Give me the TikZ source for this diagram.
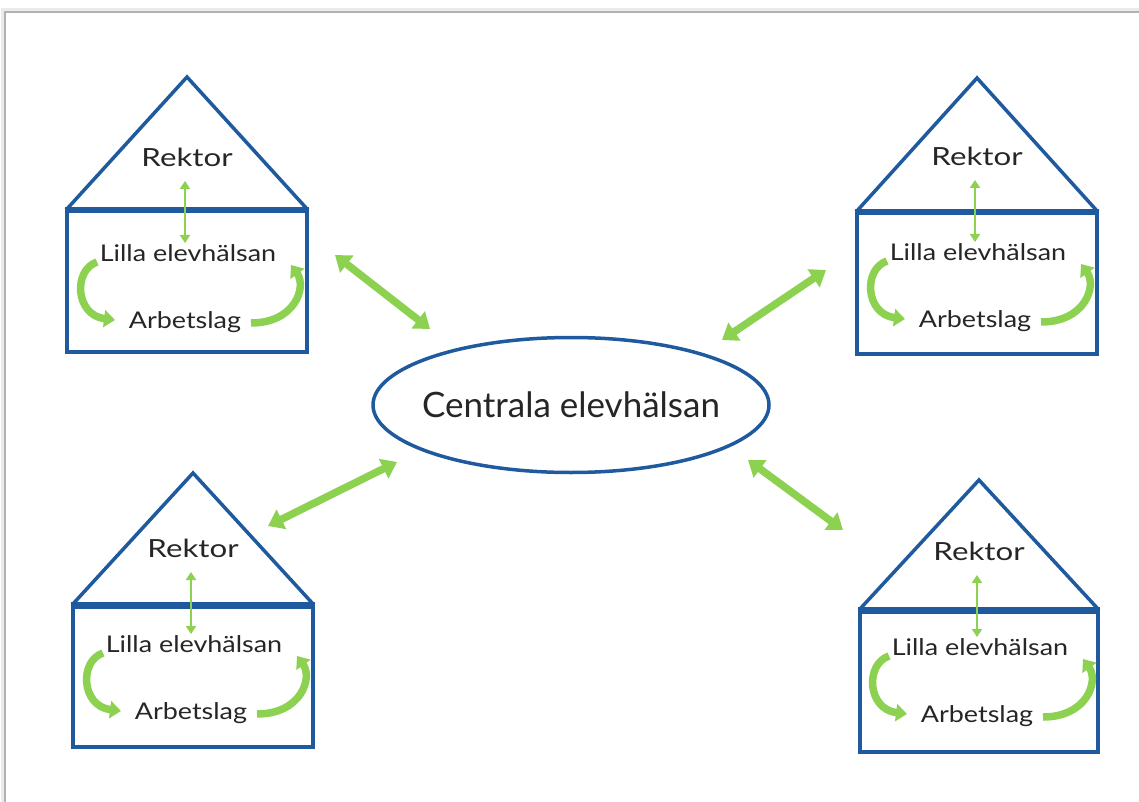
\documentclass[tikz,border=0pt]{standalone}
\usepackage{fontspec}
\setmainfont{Lato}
\newfontfamily\rekfont[FakeStretch=1.25]{Lato}
\newfontfamily\smallfont[FakeStretch=1.17]{Lato}
\usetikzlibrary{arrows.meta,shapes.geometric}
\definecolor{hblue}{HTML}{1F5A9E}
\definecolor{hgreen}{HTML}{8CD150}
\definecolor{htext}{HTML}{262626}
\tikzset{
  roofline/.style={draw=hblue,line width=3.5pt,line join=miter},
  baseline/.style={draw=hblue,line width=6pt},
  boxline/.style={draw=hblue,line width=3.5pt},
  bigarrow/.style={draw=hgreen,line width=7.5pt,{Triangle[width=21pt,length=15pt]}-{Triangle[width=21pt,length=15pt]}},
  smallarrow/.style={draw=hgreen,line width=2.8pt,{Triangle[width=10pt,length=8pt]}-{Triangle[width=10pt,length=8pt]}},
  curvearrow/.style={draw=hgreen,line width=7.5pt,-{Triangle[width=17pt,length=11pt]}},
  lbl/.style={inner sep=0pt,text=htext},
  rektorlbl/.style={lbl,font=\rekfont\fontsize{25}{28}\selectfont},
  lillalbl/.style={lbl,font=\smallfont\fontsize{23}{26}\selectfont},
  arblbl/.style={lbl,font=\smallfont\fontsize{23}{26}\selectfont},
  frame/.style={draw=black!30,line width=1.2pt}
}
\newcommand{\myhouse}[6]{%
  % #1 name prefix, #2 x, #3 y (apex), #4 half width, #5 roof height, #6 text shift
  \begin{scope}[shift={(#2,#3)}]
    \draw[roofline] (-#4-1,#5) -- (0,0) -- (#4+1,#5);
    \node[boxline,rectangle,minimum width=2*#4,minimum height=140,anchor=north,inner sep=0pt] (#1box) at (0,#5) {};
    \draw[baseline] (-#4-2,#5) -- (#4+2,#5);
    \begin{scope}[yshift=-#6]
      \node[rektorlbl] (#1rektor) at (0,80) {Rektor};
      \node[lillalbl] (#1lilla) at (1,176) {Lilla elevhälsan};
      \node[arblbl] (#1arb) at (-2,245) {Arbetslag};
      \coordinate (#1la) at (-90,185);
      \coordinate (#1lb) at (-72,243);
      \coordinate (#1ra) at (64,246);
      \coordinate (#1rb) at (104,188);
      \draw[smallarrow] (-2,104) -- (-2,166);
      \draw[curvearrow] (#1la) .. controls (-114,193) and (-112,238) .. (#1lb);
      \draw[curvearrow] (#1ra) .. controls (108,246) and (120,210) .. (#1rb);
    \end{scope}
  \end{scope}}
\begin{document}
\begin{tikzpicture}[x=1pt,y=-1pt]
  \useasboundingbox (0,0) rectangle (1139,802);
  \fill[white] (0,0) rectangle (1139,802);
  % page frame with faint shadow
  \draw[draw=black!8,line width=4pt] (3,805) -- (3,10) -- (1142,10);
  \draw[frame] (5,805) -- (5,12) -- (1142,12);
  \myhouse{tl}{187}{77}{120}{133}{0}
  \myhouse{tr}{977}{78}{120}{134}{-2}
  \myhouse{bl}{193}{473}{120}{132}{-5}
  \myhouse{br}{979}{480}{119}{130}{-9}
  \node[ellipse,draw=hblue,line width=3.5pt,minimum width=396,minimum height=135,inner xsep=-10pt,inner ysep=0pt,
        font=\fontsize{35}{38}\selectfont,text=htext] (central) at (571,405) {Centrala elevhälsan};
  \coordinate (a1s) at (335,255); \coordinate (a1e) at (430,329);
  \coordinate (a2s) at (826,270); \coordinate (a2e) at (722,340);
  \coordinate (a3s) at (268,526); \coordinate (a3e) at (397,462);
  \coordinate (a4s) at (748,460); \coordinate (a4e) at (843,530);
  \draw[bigarrow] (a1s) -- (a1e);
  \draw[bigarrow] (a2s) -- (a2e);
  \draw[bigarrow] (a3s) -- (a3e);
  \draw[bigarrow] (a4s) -- (a4e);
\end{tikzpicture}
\end{document}
